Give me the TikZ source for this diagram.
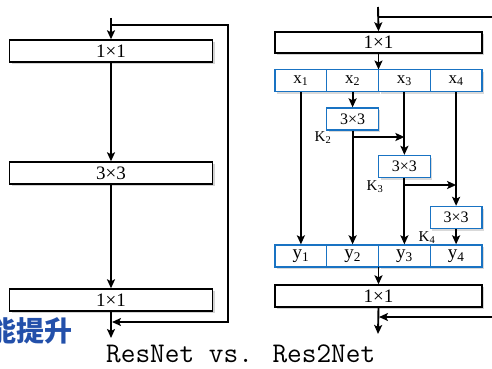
\documentclass[tikz,border=0pt]{standalone}
\usepackage{fontspec}
\setmainfont{Liberation Serif}
\newfontfamily\cjk{Noto Sans CJK SC}
\usetikzlibrary{arrows.meta,shadows}
\definecolor{boxblue}{RGB}{25,115,195}
\definecolor{txtblue}{RGB}{35,80,170}
\tikzset{
  conv/.style={draw=black,line width=1.4pt,fill=white,minimum width=203pt,minimum height=22pt,inner sep=0pt,
    font=\fontsize{19}{19}\selectfont,drop shadow={opacity=0.35,shadow xshift=2pt,shadow yshift=-2pt}},
  cell/.style={draw=boxblue,line width=1.3pt,fill=white,minimum width=51.75pt,minimum height=22pt,inner sep=0pt,
    font=\fontsize{17}{17}\selectfont,drop shadow={opacity=0.3,shadow xshift=2pt,shadow yshift=-2pt}},
  kbox/.style={cell,font=\fontsize{16}{16}\selectfont},
  ycell/.style={cell,font=\fontsize{19}{19}\selectfont},
  conn/.style={line width=1.9pt,-{Stealth[length=9pt,width=8pt,inset=2pt]}},
  wire/.style={line width=1.9pt},
  klab/.style={font=\fontsize{15}{15}\selectfont,inner sep=0pt}
}
\begin{document}
\begin{tikzpicture}[x=1pt,y=-1pt]
\useasboundingbox (0,0) rectangle (492,369);
\clip (0,0) rectangle (492,369);
% ---------- ResNet ----------
\coordinate (Lin) at (111,18);
\coordinate (Lsplit) at (111,25);
\coordinate (Lright) at (228,25);
\coordinate (Lrbot) at (228,322);
\coordinate (Ljoin) at (112,322);
\coordinate (Lout) at (111,338);
\node[conv] (L1) at (111,51) {1×1};
\node[conv] (L2) at (111,173) {3×3};
\node[conv] (L3) at (111,300) {1×1};
\draw[conn] (Lin) -- (L1.north);
\draw[conn] (L1) -- (L2);
\draw[conn] (L2) -- (L3);
\draw[conn] (Lsplit) -- (Lright) -- (Lrbot) -- (Ljoin);
\draw[conn] (L3.south) -- (Lout);
% ---------- Res2Net ----------
\coordinate (Rin) at (378,7);
\coordinate (Rsplit) at (378,17);
\coordinate (Rright) at (500,17);
\coordinate (Rright2) at (500,317);
\coordinate (Rjoin) at (379,317);
\coordinate (Rout) at (378,334);
\node[conv,minimum width=207pt,minimum height=21pt] (R1) at (378.5,42.5) {1×1};
\node[cell] (x1) at (300.9,80.5) {x\textsubscript{1}};
\node[cell] (x2) at (352.6,80.5) {x\textsubscript{2}};
\node[cell] (x3) at (404.4,80.5) {x\textsubscript{3}};
\node[cell] (x4) at (456.1,80.5) {x\textsubscript{4}};
\node[kbox] (c2) at (352.6,119) {3×3};
\node[kbox] (c3) at (404.4,166.5) {3×3};
\node[kbox] (c4) at (456.1,217.5) {3×3};
\node[ycell] (y1) at (300.9,256) {y\textsubscript{1}};
\node[ycell] (y2) at (352.6,256) {y\textsubscript{2}};
\node[ycell] (y3) at (404.4,256) {y\textsubscript{3}};
\node[ycell] (y4) at (456.1,256) {y\textsubscript{4}};
\node[conv,minimum width=207pt] (R2) at (378.5,296) {1×1};
\node[klab] (k2) at (323,138) {K\textsubscript{2}};
\node[klab] (k3) at (375,187) {K\textsubscript{3}};
\node[klab] (k4) at (427,238) {K\textsubscript{4}};
\coordinate (xtop) at (378.5,69.5);
\coordinate (b2a) at (352.6,137);
\coordinate (b2b) at (404.4,137);
\coordinate (b3a) at (404.4,185);
\coordinate (b3b) at (456.1,185);
\coordinate (ybot) at (378.5,267);
\draw[conn] (Rin) -- (R1.north);
\draw[wire] (Rsplit) -- (Rright);
\draw[conn] (R1.south) -- (xtop);
\draw[conn] (x1.south) -- (y1.north);
\draw[conn] (x2.south) -- (c2.north);
\draw[conn] (c2.south) -- (y2.north);
\draw[conn] (b2a) -- (b2b);
\draw[conn] (x3.south) -- (c3.north);
\draw[conn] (c3.south) -- (y3.north);
\draw[conn] (b3a) -- (b3b);
\draw[conn] (x4.south) -- (c4.north);
\draw[conn] (c4.south) -- (y4.north);
\draw[conn] (ybot) -- (R2.north);
\draw[conn] (Rright2) -- (Rjoin);
\draw[conn] (R2.south) -- (Rout);
% ---------- texts ----------
\node[anchor=east,inner sep=0pt,text=txtblue,font=\cjk\bfseries\fontsize{28}{28}\selectfont] (cn) at (73,331) {性能提升};
\node[anchor=base west,inner sep=0pt,text depth=0pt,font=\ttfamily\fontsize{28.5}{28.5}\selectfont] (cap) at (106,362.5) {ResNet vs. Res2Net};
\end{tikzpicture}
\end{document}
